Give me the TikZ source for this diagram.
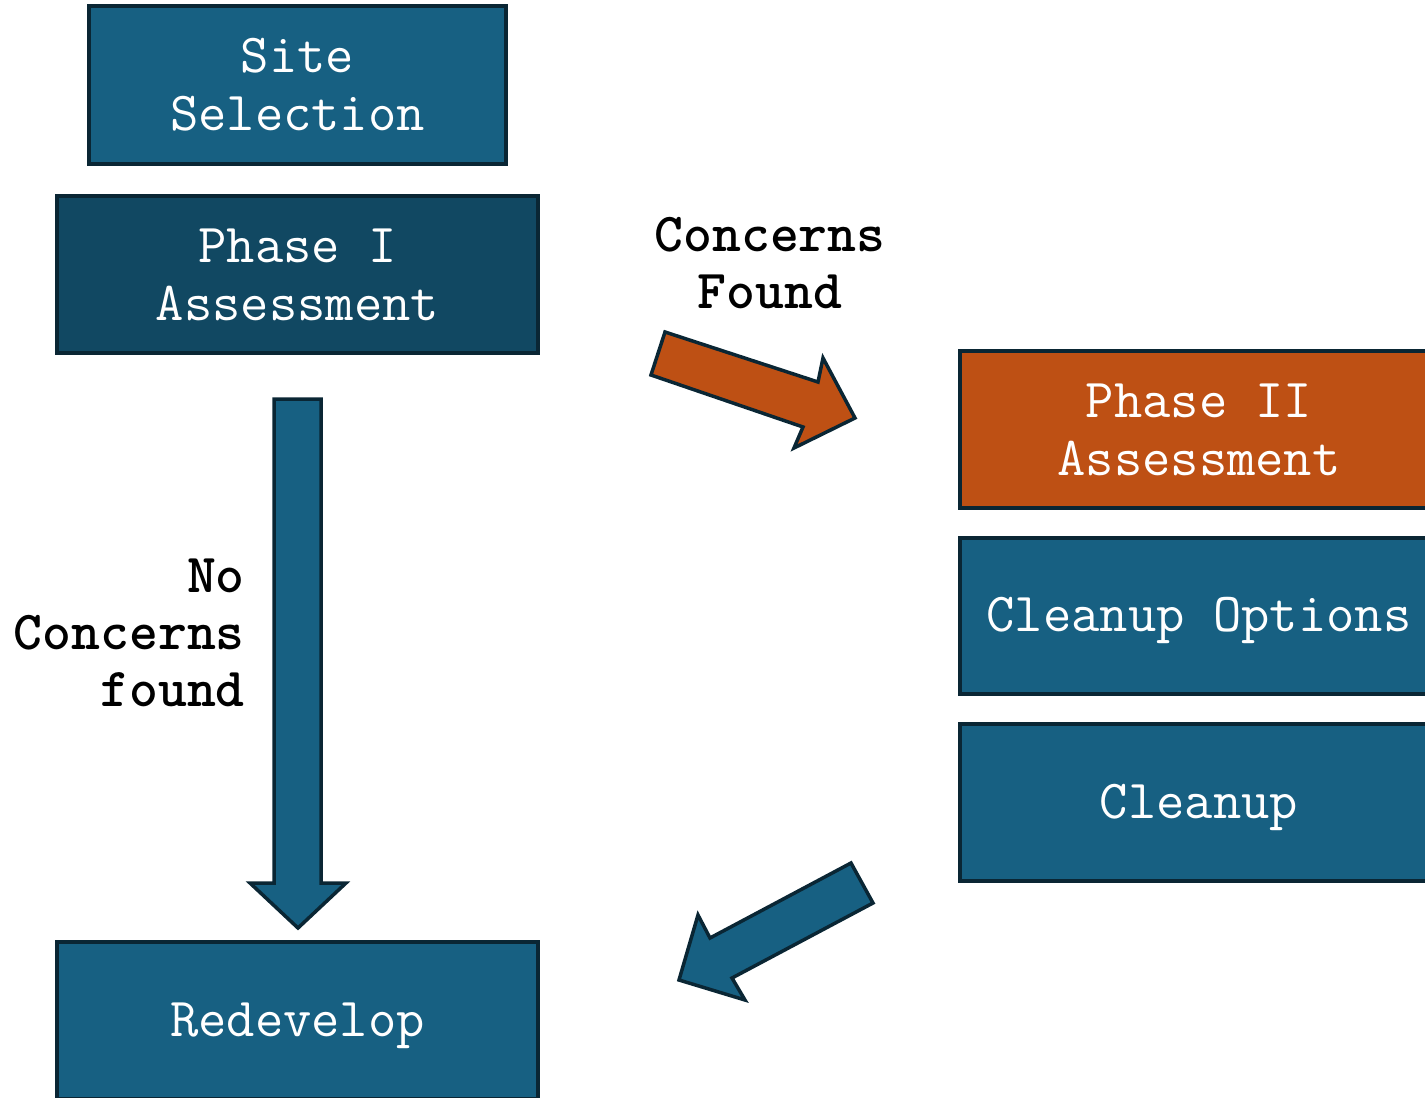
\documentclass[tikz,border=0pt]{standalone}
\usepackage{fontspec}
\newfontfamily\lmlight{Latin Modern Mono Light}
\definecolor{boxblue}{RGB}{23,96,130}
\definecolor{boxdark}{RGB}{17,72,98}
\definecolor{boxorange}{RGB}{190,80,20}
\definecolor{edgecol}{RGB}{10,38,52}
\tikzset{
  box/.style={draw=edgecol, line width=3.5pt, fill=boxblue, text=white,
    align=center, inner sep=0pt,
    font=\ttfamily\fontsize{55}{58}\selectfont},
  oneline/.style={text height=43.6pt, text depth=12.2pt},
  lbl/.style={text=black, inner sep=0pt,
    font=\lmlight\bfseries\fontsize{55}{57}\selectfont},
  blockarrow/.style={draw=edgecol, line width=3.5pt, line join=miter}
}
\begin{document}
\begin{tikzpicture}[x=1pt,y=-1pt]
\useasboundingbox (0,0) rectangle (1425,1098);
\clip (0,0) rectangle (1425,1098);
\node[box, minimum width=417, minimum height=158] (site) at (297.5,85) {Site\\Selection};
\node[box, fill=boxdark, minimum width=481, minimum height=157] (p1) at (297.5,274.5) {Phase I\\Assessment};
\node[box, fill=boxorange, minimum width=478, minimum height=157] (p2) at (1199,429.5) {Phase II\\Assessment};
\node[box, oneline, minimum width=478, minimum height=156] (opt) at (1199,616) {Cleanup Options};
\node[box, oneline, minimum width=478, minimum height=157] (clean) at (1199,802.5) {Cleanup};
\node[box, oneline, minimum width=481, minimum height=157] (redev) at (297.5,1020.5) {Redevelop};
% labels
\node[lbl, align=center] (cf) at (770,263) {Concerns\\Found};
\node[lbl, align=right, anchor=east] (ncf) at (245,633) {No\\Concerns\\found};
% block arrows
\draw[blockarrow, fill=boxblue] (274,399) -- (321,399) -- (321,883) -- (346,883) -- (298,928) -- (250,883) -- (274,883) -- cycle;
\draw[blockarrow, fill=boxorange] (665,332) -- (818,382) -- (823,358) -- (855,418) -- (794,448) -- (803,427) -- (651,375) -- cycle;
\draw[blockarrow, fill=boxblue] (851,863) -- (873,903) -- (732,978) -- (745,1000) -- (679,980) -- (698,915) -- (710,938) -- cycle;
\end{tikzpicture}
\end{document}
